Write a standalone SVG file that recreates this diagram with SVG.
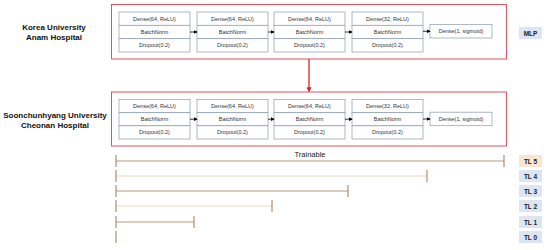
<svg xmlns="http://www.w3.org/2000/svg" width="550" height="250" viewBox="0 0 550 250">
<defs>
<marker id="ah" viewBox="0 0 6 6" refX="5" refY="3" markerWidth="4" markerHeight="4" orient="auto" markerUnits="userSpaceOnUse"><path d="M0,0 L6,3 L0,6 z" fill="#000"/></marker>
<marker id="rh" viewBox="0 0 6 6" refX="5" refY="3" markerWidth="5" markerHeight="5" orient="auto" markerUnits="userSpaceOnUse"><path d="M0,0 L6,3 L0,6 z" fill="#e0202a"/></marker>
<style>
.frame{fill:#fff;stroke:#e8505c;stroke-width:1}
.blk{fill:#fff;stroke:#8a9ab2;stroke-width:0.7}
.bt{font-family:"Liberation Sans",Arial,sans-serif;font-size:5.5px;fill:#333;text-anchor:middle}
.site{font-family:"Liberation Sans",Arial,sans-serif;font-size:8px;font-weight:bold;fill:#111;text-anchor:middle}
.tag{font-family:"Liberation Sans",Arial,sans-serif;font-size:6.5px;font-weight:bold;fill:#222;text-anchor:middle}
.conn{stroke:#000;stroke-width:0.8;fill:none}
.dk{stroke:#b89878;stroke-width:1}
.lt{stroke:#ead6c6;stroke-width:1}
.tick{stroke:#9c7a56;stroke-width:1}
</style>
</defs>
<g id="source">
<text class="site" x="54" y="30">Korea University</text>
<text class="site" x="54" y="40">Anam Hospital</text>
<rect class="frame" x="111.5" y="4.5" width="395" height="54.5"/>
</g>
<g id="target">
<text class="site" x="55" y="118">Soonchunhyang University</text>
<text class="site" x="55" y="128">Cheonan Hospital</text>
<rect class="frame" x="111.5" y="92" width="395" height="54"/>
</g>
<g id="top-b1"><rect class="blk" x="119" y="12" width="71" height="13.3"/><rect class="blk" x="119" y="25.3" width="71" height="13.4"/><rect class="blk" x="119" y="38.7" width="71" height="13.3"/>
<text class="bt" x="154.5" y="20.5">Dense(64, ReLU)</text><text class="bt" x="154.5" y="34">BatchNorm</text><text class="bt" x="154.5" y="47.3">Dropout(0.2)</text></g>
<g id="top-b2"><rect class="blk" x="197" y="12" width="71" height="13.3"/><rect class="blk" x="197" y="25.3" width="71" height="13.4"/><rect class="blk" x="197" y="38.7" width="71" height="13.3"/>
<text class="bt" x="232.5" y="20.5">Dense(64, ReLU)</text><text class="bt" x="232.5" y="34">BatchNorm</text><text class="bt" x="232.5" y="47.3">Dropout(0.2)</text></g>
<g id="top-b3"><rect class="blk" x="274" y="12" width="71" height="13.3"/><rect class="blk" x="274" y="25.3" width="71" height="13.4"/><rect class="blk" x="274" y="38.7" width="71" height="13.3"/>
<text class="bt" x="309.5" y="20.5">Dense(64, ReLU)</text><text class="bt" x="309.5" y="34">BatchNorm</text><text class="bt" x="309.5" y="47.3">Dropout(0.2)</text></g>
<g id="top-b4"><rect class="blk" x="352" y="12" width="71" height="13.3"/><rect class="blk" x="352" y="25.3" width="71" height="13.4"/><rect class="blk" x="352" y="38.7" width="71" height="13.3"/>
<text class="bt" x="387.5" y="20.5">Dense(32, ReLU)</text><text class="bt" x="387.5" y="34">BatchNorm</text><text class="bt" x="387.5" y="47.3">Dropout(0.2)</text></g>
<g id="top-out"><rect class="blk" x="430" y="24.5" width="62" height="13.5"/><text class="bt" x="461" y="33">Dense(1, sigmoid)</text></g>
<g id="bot-b1"><rect class="blk" x="119" y="99.5" width="71" height="13.2"/><rect class="blk" x="119" y="112.7" width="71" height="13.1"/><rect class="blk" x="119" y="125.8" width="71" height="13.2"/>
<text class="bt" x="154.5" y="108">Dense(64, ReLU)</text><text class="bt" x="154.5" y="121.2">BatchNorm</text><text class="bt" x="154.5" y="134.4">Dropout(0.2)</text></g>
<g id="bot-b2"><rect class="blk" x="197" y="99.5" width="71" height="13.2"/><rect class="blk" x="197" y="112.7" width="71" height="13.1"/><rect class="blk" x="197" y="125.8" width="71" height="13.2"/>
<text class="bt" x="232.5" y="108">Dense(64, ReLU)</text><text class="bt" x="232.5" y="121.2">BatchNorm</text><text class="bt" x="232.5" y="134.4">Dropout(0.2)</text></g>
<g id="bot-b3"><rect class="blk" x="274" y="99.5" width="71" height="13.2"/><rect class="blk" x="274" y="112.7" width="71" height="13.1"/><rect class="blk" x="274" y="125.8" width="71" height="13.2"/>
<text class="bt" x="309.5" y="108">Dense(64, ReLU)</text><text class="bt" x="309.5" y="121.2">BatchNorm</text><text class="bt" x="309.5" y="134.4">Dropout(0.2)</text></g>
<g id="bot-b4"><rect class="blk" x="352" y="99.5" width="71" height="13.2"/><rect class="blk" x="352" y="112.7" width="71" height="13.1"/><rect class="blk" x="352" y="125.8" width="71" height="13.2"/>
<text class="bt" x="387.5" y="108">Dense(32, ReLU)</text><text class="bt" x="387.5" y="121.2">BatchNorm</text><text class="bt" x="387.5" y="134.4">Dropout(0.2)</text></g>
<g id="bot-out"><rect class="blk" x="430" y="112.2" width="62" height="13.5"/><text class="bt" x="461" y="120.9">Dense(1, sigmoid)</text></g>
<g id="connectors">
<line class="conn" x1="190" y1="32" x2="197" y2="32" marker-end="url(#ah)"/>
<line class="conn" x1="268" y1="32" x2="274" y2="32" marker-end="url(#ah)"/>
<line class="conn" x1="345" y1="32" x2="352" y2="32" marker-end="url(#ah)"/>
<line class="conn" x1="423" y1="31.3" x2="430" y2="31.3" marker-end="url(#ah)"/>
<line class="conn" x1="190" y1="119.2" x2="197" y2="119.2" marker-end="url(#ah)"/>
<line class="conn" x1="268" y1="119.2" x2="274" y2="119.2" marker-end="url(#ah)"/>
<line class="conn" x1="345" y1="119.2" x2="352" y2="119.2" marker-end="url(#ah)"/>
<line class="conn" x1="423" y1="119" x2="430" y2="119" marker-end="url(#ah)"/>
<line x1="309" y1="59" x2="309" y2="91.5" stroke="#e0202a" stroke-width="1.3" marker-end="url(#rh)"/>
</g>
<g id="timeline">
<text x="310" y="157" font-family="Liberation Sans, Arial, sans-serif" font-size="7.5" fill="#222" text-anchor="middle">Trainable</text>
<line class="dk" x1="116" y1="161" x2="504" y2="161"/>
<line class="lt" x1="116" y1="176" x2="427" y2="176"/>
<line class="dk" x1="116" y1="191" x2="348" y2="191"/>
<line class="lt" x1="116" y1="206" x2="272" y2="206"/>
<line class="dk" x1="116" y1="222" x2="194" y2="222"/>
<line class="tick" x1="116" y1="155" x2="116" y2="167"/>
<line class="tick" x1="116" y1="170" x2="116" y2="182"/>
<line class="tick" x1="116" y1="185" x2="116" y2="197"/>
<line class="tick" x1="116" y1="200" x2="116" y2="212"/>
<line class="tick" x1="116" y1="216" x2="116" y2="228"/>
<line class="tick" x1="116" y1="231" x2="116" y2="243"/>
<line class="tick" x1="504" y1="155" x2="504" y2="167"/>
<line class="tick" x1="427" y1="170" x2="427" y2="182"/>
<line class="tick" x1="348" y1="185" x2="348" y2="197"/>
<line class="tick" x1="272" y1="200" x2="272" y2="212"/>
<line class="tick" x1="194" y1="216" x2="194" y2="228"/>
</g>
<g id="mlp"><rect x="519" y="27" width="23" height="12" fill="#dce5f2"/><text class="tag" x="530.5" y="35.5">MLP</text></g>
<g id="tl5"><rect x="519" y="155" width="23" height="12" fill="#f8e6d2"/><text class="tag" x="530.5" y="163.5">TL 5</text></g>
<g id="tl4"><rect x="519" y="170" width="23" height="12" fill="#dce5f2"/><text class="tag" x="530.5" y="178.5">TL 4</text></g>
<g id="tl3"><rect x="519" y="185" width="23" height="12" fill="#dce5f2"/><text class="tag" x="530.5" y="193.5">TL 3</text></g>
<g id="tl2"><rect x="519" y="200" width="23" height="12" fill="#dce5f2"/><text class="tag" x="530.5" y="208.5">TL 2</text></g>
<g id="tl1"><rect x="519" y="216" width="23" height="12" fill="#dce5f2"/><text class="tag" x="530.5" y="224.5">TL 1</text></g>
<g id="tl0"><rect x="519" y="231" width="23" height="12" fill="#dce5f2"/><text class="tag" x="530.5" y="239.5">TL 0</text></g>
</svg>
